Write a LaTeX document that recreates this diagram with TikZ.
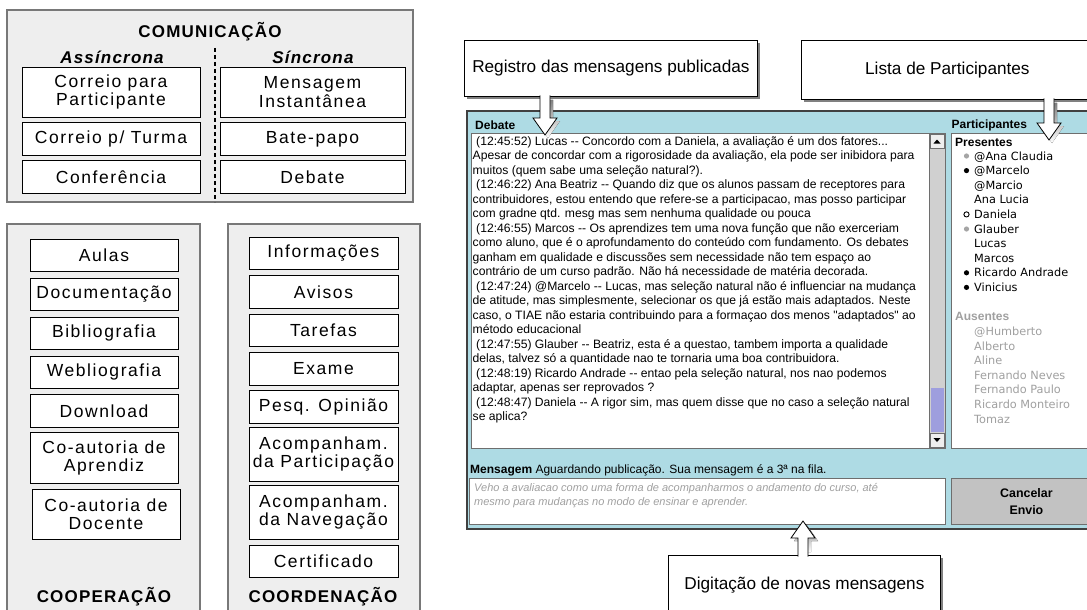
\documentclass[tikz,border=0pt]{standalone}
\definecolor{panel}{RGB}{238,238,238}
\definecolor{frame}{RGB}{120,120,120}
\definecolor{winblue}{RGB}{174,219,228}
\definecolor{shade}{RGB}{128,128,128}
\definecolor{faint}{RGB}{160,160,160}
\definecolor{dotgray}{RGB}{165,165,165}
\definecolor{track}{RGB}{208,208,208}
\definecolor{thumb}{RGB}{158,158,222}
\definecolor{btnface}{RGB}{194,194,194}
\definecolor{fieldline}{RGB}{110,110,110}
\usepackage{fontspec}
\setmainfont{Liberation Sans}[Ligatures=TeXOff]
\newfontfamily\spaced{Liberation Sans}[LetterSpace=9]
\newfontfamily\spacedhead{Liberation Sans}[LetterSpace=7]
\newfontfamily\ui{DejaVu Sans}
\usetikzlibrary{positioning,calc,shadows}

\newcommand\blockarrow[2]{%
  \fill[shade] let \p1=(#1), \p2=(#2), \n1={sign(\y2-\y1)} in
    (\x2-2pt,\y1+\n1*3pt) -- (\x2-2pt,\y2-\n1*17pt-3pt) -- (\x2-9pt,\y2-\n1*17pt-3pt)
    -- (\x2+3pt,\y2-3pt) -- (\x2+15pt,\y2-\n1*17pt-3pt) -- (\x2+8pt,\y2-\n1*17pt-3pt)
    -- (\x2+8pt,\y1+\n1*3pt) -- cycle;
  \fill[white] let \p1=(#1), \p2=(#2), \n1={sign(\y2-\y1)} in
    (\x2-5pt,\y1-\n1*1.5pt) -- (\x2-5pt,\y2-\n1*17pt) -- (\x2-12pt,\y2-\n1*17pt)
    -- (\x2,\y2) -- (\x2+12pt,\y2-\n1*17pt) -- (\x2+5pt,\y2-\n1*17pt)
    -- (\x2+5pt,\y1-\n1*1.5pt) -- cycle;
  \draw[line width=0.8pt,line join=miter] let \p1=(#1), \p2=(#2), \n1={sign(\y2-\y1)} in
    (\x2-5pt,\y1-\n1*1.5pt) -- (\x2-5pt,\y2-\n1*17pt) -- (\x2-12pt,\y2-\n1*17pt)
    -- (\x2,\y2) -- (\x2+12pt,\y2-\n1*17pt) -- (\x2+5pt,\y2-\n1*17pt)
    -- (\x2+5pt,\y1-\n1*1.5pt);}

\begin{document}
\begin{tikzpicture}[x=1pt,y=-1pt,
        groupbox/.style={draw=frame,fill=panel,line width=1.2pt},
        itembox/.style={draw,fill=white,line width=0.9pt,align=center,inner sep=0pt,
          font=\spaced\fontsize{17.5}{18.5}\selectfont},
        titletext/.style={font=\spacedhead\bfseries\fontsize{17}{19}\selectfont},
        calloutbox/.style={draw,fill=white,line width=0.8pt,anchor=north west,
          font=\fontsize{17.2}{20}\selectfont,
          drop shadow={shadow xshift=3pt,shadow yshift=-3pt,fill=shade,opacity=1}},
        fieldbox/.style={draw=fieldline,fill=white,line width=0.8pt},
        headtext/.style={font=\bfseries\fontsize{12}{14}\selectfont,anchor=base west,inner sep=0pt},
        person/.style={font=\ui\fontsize{11.3}{13}\selectfont,anchor=base west,inner sep=0pt},
        dotg/.style={fill=dotgray},dotk/.style={fill=black},
        doto/.style={draw=black,fill=white,line width=0.9pt},dotn/.style={}]
        \useasboundingbox (0,0) rectangle (1087,610);

        \draw[groupbox] (7,10) rectangle (413,202);
        \node[titletext] (com) at (210,32) {COMUNICAÇÃO};
        \node[titletext,font=\spacedhead\bfseries\itshape\fontsize{17}{19}\selectfont] (assinc) at (112,57) {Assíncrona};
        \node[titletext,font=\spacedhead\bfseries\itshape\fontsize{17}{19}\selectfont] (sinc) at (313,57) {Síncrona};
        \draw[line width=1.2pt,dash pattern=on 4pt off 3pt] (215,48) -- (215,202);
        \node[itembox,minimum width=178pt,minimum height=50pt] (cpart) at (111,92) {Correio para\\Participante};
        \node[itembox,minimum width=178pt,minimum height=33pt,below=5pt of cpart] (cturma) {Correio p/ Turma};
        \node[itembox,minimum width=178pt,minimum height=33pt,below=4pt of cturma] (conf) {Conferência};
        \node[itembox,minimum width=185pt,minimum height=50pt] (msginst) at (312.5,92) {Mensagem\\Instantânea};
        \node[itembox,minimum width=185pt,minimum height=33pt,below=5pt of msginst] (batepapo) {Bate-papo};
        \node[itembox,minimum width=185pt,minimum height=33pt,below=4pt of batepapo] (debate) {Debate};

        \draw[groupbox] (7,224) rectangle (200,615);
        \node[itembox,minimum width=148pt,minimum height=32.5pt] (aulas) at (104,255.5) {Aulas};
        \node[itembox,minimum width=148pt,minimum height=32.5pt,below=5.5pt of aulas] (docum) {Documentação};
        \node[itembox,minimum width=148pt,minimum height=32.5pt,below=5.5pt of docum] (biblio) {Bibliografia};
        \node[itembox,minimum width=148pt,minimum height=32.5pt,below=5.5pt of biblio] (webbib) {Webliografia};
        \node[itembox,minimum width=148pt,minimum height=32.5pt,below=5.5pt of webbib] (download) {Download};
        \node[itembox,minimum width=148pt,minimum height=50.5pt,below=4.5pt of download] (coaprend) {Co-autoria de\\Aprendiz};
        \node[itembox,minimum width=148pt,minimum height=50.5pt,below=5pt of coaprend,xshift=2pt] (codoc) {Co-autoria de\\Docente};
        \node[titletext] (coop) at (104,597) {COOPERAÇÃO};

        \draw[groupbox] (228,224) rectangle (420,615);
        \node[itembox,minimum width=149pt,minimum height=32.5pt] (info) at (323.5,253.5) {Informações};
        \node[itembox,minimum width=149pt,minimum height=32.5pt,below=5pt of info] (avisos) {Avisos};
        \node[itembox,minimum width=149pt,minimum height=32.5pt,below=5pt of avisos] (tarefas) {Tarefas};
        \node[itembox,minimum width=149pt,minimum height=32.5pt,below=5pt of tarefas] (exame) {Exame};
        \node[itembox,minimum width=149pt,minimum height=32.5pt,below=5pt of exame] (pesq) {Pesq. Opinião};
        \node[itembox,minimum width=149pt,minimum height=54pt,below=3pt of pesq] (acpart) {Acompanham.\\da Participação};
        \node[itembox,minimum width=149pt,minimum height=54pt,below=3pt of acpart] (acnav) {Acompanham.\\da Navegação};
        \node[itembox,minimum width=149pt,minimum height=32.5pt,below=5pt of acnav] (certif) {Certificado};
        \node[titletext] (coord) at (323,597) {COORDENAÇÃO};

        \draw[fill=winblue,draw=black!75,line width=1.4pt] (467,111) rectangle (1095,529);
        \node[headtext] (debl) at (475,129) {Debate};
        \node[headtext] (partl) at (951.5,128) {Participantes};
        \draw[fieldbox] (471,133) rectangle (929,448);
        \node[anchor=north west,inner sep=0pt,align=left,font=\fontsize{12.15}{14.5}\selectfont] (log) at (472.5,136) {%
        \hspace*{3.5pt}(12:45:52) Lucas -- Concordo com a Daniela, a avaliação é um dos fatores...\\
        Apesar de concordar com a rigorosidade da avaliação, ela pode ser inibidora para\\
        muitos (quem sabe uma seleção natural?).\\
        \hspace*{3.5pt}(12:46:22) Ana Beatriz -- Quando diz que os alunos passam de receptores para\\
        contribuidores, estou entendo que refere-se a participacao, mas posso participar\\
        com gradne qtd. mesg mas sem nenhuma qualidade ou pouca\\
        \hspace*{3.5pt}(12:46:55) Marcos -- Os aprendizes tem uma nova função que não exerceriam\\
        como aluno, que é o aprofundamento do conteúdo com fundamento. Os debates\\
        ganham em qualidade e discussões sem necessidade não tem espaço ao\\
        contrário de um curso padrão. Não há necessidade de matéria decorada.\\
        \hspace*{3.5pt}(12:47:24) @Marcelo -- Lucas, mas seleção natural não é influenciar na mudança\\
        de atitude, mas simplesmente, selecionar os que já estão mais adaptados. Neste\\
        caso, o TIAE não estaria contribuindo para a formaçao dos menos "adaptados" ao\\
        método educacional\\
        \hspace*{3.5pt}(12:47:55) Glauber -- Beatriz, esta é a questao, tambem importa a qualidade\\
        delas, talvez só a quantidade nao te tornaria uma boa contribuidora.\\
        \hspace*{3.5pt}(12:48:19) Ricardo Andrade -- entao pela seleção natural, nos nao podemos\\
        adaptar, apenas ser reprovados ?\\
        \hspace*{3.5pt}(12:48:47) Daniela -- A rigor sim, mas quem disse que no caso a seleção natural\\
        se aplica?};
        \draw[fill=track,draw=fieldline,line width=0.6pt] (929,133) rectangle (945,448);
        \draw[fill=panel,draw=fieldline,line width=0.6pt] (930,134) rectangle (944,148);
        \draw[fill=panel,draw=fieldline,line width=0.6pt] (930,433) rectangle (944,447);
        \fill (933.5,143.5) -- (940.5,143.5) -- (937,139.5) -- cycle;
        \fill (933.5,438) -- (940.5,438) -- (937,442) -- cycle;
        \fill[thumb] (930.5,388) rectangle (943.5,432);

        \draw[fieldbox] (951,133) rectangle (1095,448);
        \node[headtext] (pres) at (955,146) {Presentes};
        \foreach \nm/\bl [count=\i from 0] in {@Ana Claudia/g,@Marcelo/k,@Marcio/n,Ana Lucia/n,
            Daniela/o,Glauber/g,Lucas/n,Marcos/n,Ricardo Andrade/k,Vinicius/k}{
          \node[person] (p\i) at (974,160+14.6*\i) {\nm};
          \path[dot\bl] (966.5,156+14.6*\i) circle (2.6pt);
        }
        \node[headtext,text=faint] (aus) at (955,320.5) {Ausentes};
        \foreach \nm [count=\i from 0] in {@Humberto,Alberto,Aline,Fernando Neves,Fernando Paulo,
            Ricardo Monteiro,Tomaz}
          \node[person,text=faint] (a\i) at (974,335.5+14.6*\i) {\nm};

        \node[anchor=base west,inner sep=0pt,font=\fontsize{12}{14}\selectfont] (msgl) at (470,473)
          {\textbf{Mensagem} Aguardando publicação. Sua mensagem é a 3ª na fila.};
        \draw[fieldbox] (469,478) rectangle (945,524);
        \node[anchor=north west,inner sep=0pt,align=left,text=faint,
          font=\itshape\fontsize{11}{14}\selectfont] (draft) at (474,483) {%
          Veho a avaliacao como uma forma de acompanharmos o andamento do curso, até\\
          mesmo para mudanças no modo de ensinar e aprender.};
        \node[draw=fieldline,fill=btnface,line width=0.8pt,anchor=north west,minimum width=150pt,
          minimum height=46pt,align=center,font=\bfseries\fontsize{12.4}{16.5}\selectfont] (cancel)
          at (951,478) {Cancelar\\Envio};

        \node[calloutbox,minimum width=293pt,minimum height=56pt] (reg) at (464,40)
          {Registro das mensagens publicadas};
        \node[calloutbox,minimum width=292pt,minimum height=59pt] (lista) at (801,40)
          {Lista de Participantes};
        \node[calloutbox,minimum width=272pt,minimum height=60pt] (digit) at (668,555)
          {Digitação de novas mensagens};
        \coordinate (regtip) at (545,135);
        \coordinate (listatip) at (1049,140);
        \coordinate (digtip) at (803,521);
        \blockarrow{reg.south -| regtip}{regtip}
        \blockarrow{lista.south -| listatip}{listatip}
        \blockarrow{digit.north -| digtip}{digtip}
      \end{tikzpicture}
\end{document}
